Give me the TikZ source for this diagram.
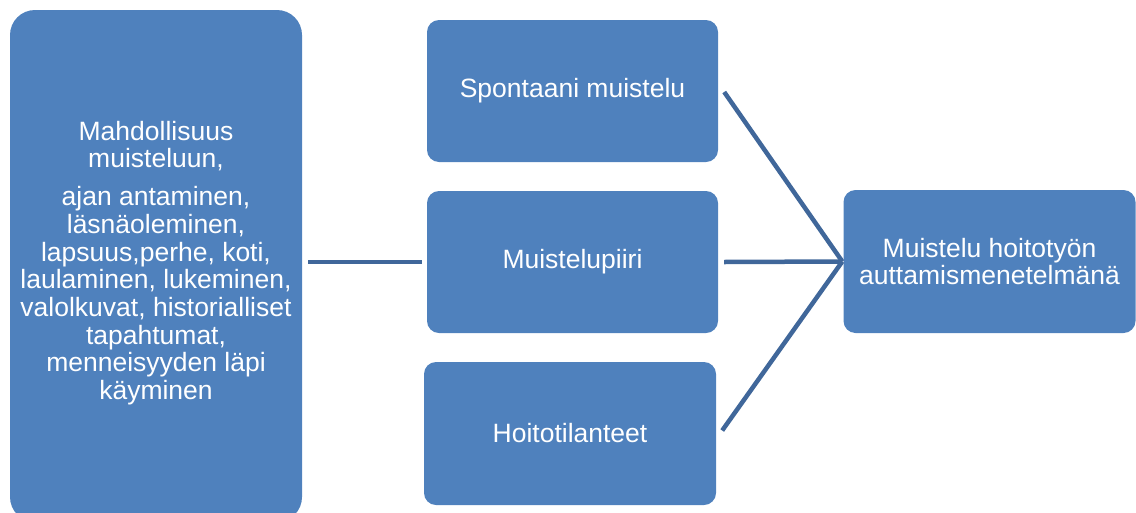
\documentclass[tikz,border=0pt]{standalone}
\usepackage{fontspec}
\setmainfont{Liberation Sans}
\usetikzlibrary{calc}
\definecolor{boxblue}{HTML}{4F81BD}
\definecolor{linkblue}{HTML}{40679A}
\begin{document}
\begin{tikzpicture}[x=1pt,y=-1pt,
  box/.style={fill=boxblue, draw=none, rounded corners=12pt, text=white,
    align=center, inner sep=0pt, font=\fontsize{26.5}{27.5}\selectfont},
  link/.style={draw=linkblue, line width=4.5pt}]
\useasboundingbox (0,0) rectangle (1136,512);
\clip (0,0) rectangle (1136,512);

% source box on the left (runs past the lower edge)
\node[box, rounded corners=25pt, minimum width=292pt, minimum height=512pt]
  (src) at (156,266) {};
\node[text=white, align=center, inner sep=0pt, font=\fontsize{26.5}{27.7}\selectfont]
  (srctext) at (156,263) {Mahdollisuus\\muisteluun,\\[10pt]ajan antaminen,\\l\"asn\"aoleminen,\\lapsuus,perhe, koti,\\laulaminen, lukeminen,\\valolkuvat, historialliset\\tapahtumat,\\menneisyyden l\"api\\k\"ayminen};

% three forms of reminiscence
\node[box, minimum width=291pt, minimum height=142pt] (spont) at (572.5,91) {Spontaani muistelu};
\node[box, minimum width=291pt, minimum height=142pt] (piiri) at (572.5,262) {Muistelupiiri};
\node[box, minimum width=292pt, minimum height=143pt] (hoito) at (570,433.5) {Hoitotilanteet};

% outcome box
\node[box, minimum width=292pt, minimum height=143pt] (goal) at (989.5,261.5) {Muistelu hoitoty\"on\\auttamismenetelm\"an\"a};

% connectors
\coordinate (join) at ($(goal.west)+(-1,0)$);
\draw[link] ($(src.east |- piiri.west)+(6,0)$) -- ($(piiri.west)+(-5,0)$);
\draw[link] ($(spont.east)+(6,1)$) -- (join);
\draw[link] ($(piiri.east)+(6,0)$) -- (join);
\draw[link] ($(hoito.east)+(6,-3)$) -- (join);
\end{tikzpicture}
\end{document}
